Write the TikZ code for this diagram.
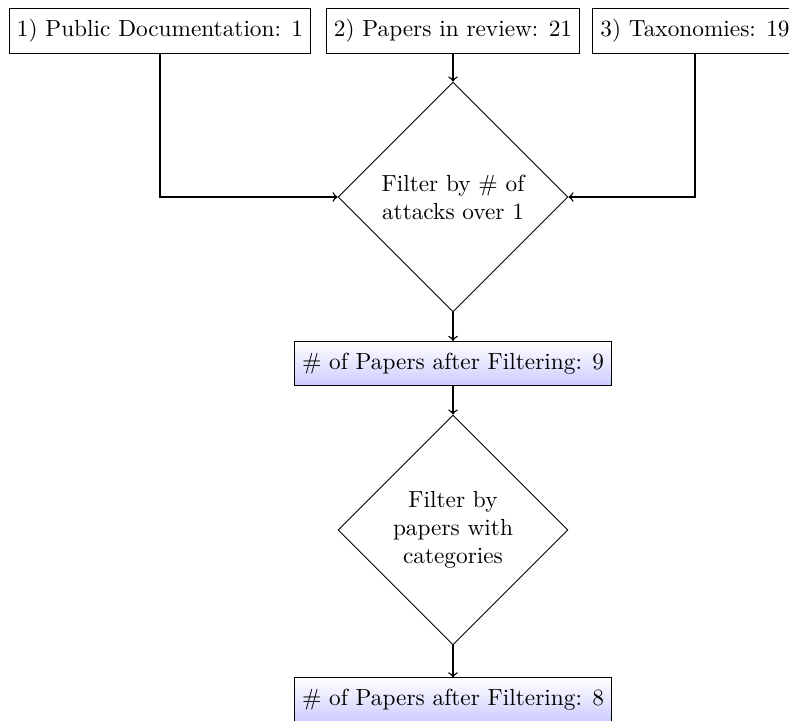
\documentclass[tikz,border=0pt]{standalone}
\usetikzlibrary{shapes.geometric}
\begin{document}
\begin{tikzpicture}[x=0.4292pt,y=-0.4292pt,
 srcbox/.style={draw,rectangle,minimum height=19pt,inner sep=3.33pt},
 resbox/.style={srcbox,top color=white,bottom color=blue!20},
 decision/.style={draw,diamond,aspect=1,inner sep=0pt,minimum width=98.7pt,minimum height=98.7pt,align=center},
 conn/.style={draw,->,semithick}]
\useasboundingbox (0,0) rectangle (789,720);
\node[srcbox] (pub) at (160,31) {1) Public Documentation: 1};
\node[srcbox] (rev) at (453,31) {2) Papers in review: 21};
\node[srcbox] (tax) at (695,31) {3) Taxonomies: 19};
\node[decision] (f1) at (453,197) {Filter by \# of\\attacks over 1};
\node[resbox] (r1) at (453,363.5) {\# of Papers after Filtering: 9};
\node[decision] (f2) at (453,530) {Filter by\\papers with\\categories};
\node[resbox] (r2) at (453,700) {\# of Papers after Filtering: 8};
\draw[conn] (rev) -- (f1);
\draw[conn] (pub.south) |- (f1.west);
\draw[conn] (tax.south) |- (f1.east);
\draw[conn] (f1) -- (r1);
\draw[conn] (r1) -- (f2);
\draw[conn] (f2) -- (r2);
\end{tikzpicture}
\end{document}
